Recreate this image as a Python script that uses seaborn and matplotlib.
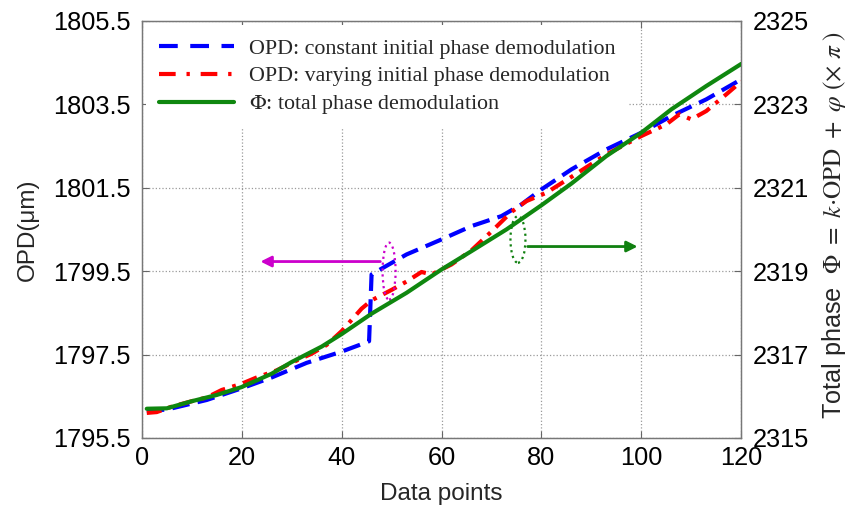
import numpy as np
import pandas as pd
import matplotlib
matplotlib.use("Agg")
import matplotlib.pyplot as plt
from matplotlib.patches import Ellipse
from matplotlib.lines import Line2D
import seaborn as sns

# ---------------- data ----------------
x_const = [1, 5, 13, 20, 26, 33, 40, 44.7, 45.5, 46, 48.3, 53, 60, 66, 72, 76, 80, 86, 93, 100, 106, 113, 120]
opd_const = [1796.15, 1796.18, 1796.41, 1796.69, 1796.95, 1797.30, 1797.57, 1797.78, 1797.82, 1799.42, 1799.58,
             1799.90, 1800.26, 1800.58, 1800.82, 1801.10, 1801.46, 1801.94, 1802.42, 1802.82, 1803.22, 1803.62, 1804.10]

x_vary = [1, 3, 6, 10, 13, 16, 20, 23, 27, 30, 34, 37, 40, 44, 46, 50, 53, 56, 58, 62, 66, 70, 74, 77, 81, 86,
          93, 100, 105, 107.6, 110, 113, 117, 120]
opd_vary = [1796.10, 1796.12, 1796.25, 1796.38, 1796.47, 1796.65, 1796.80, 1796.95, 1797.12, 1797.30, 1797.52,
            1797.73, 1798.06, 1798.60, 1798.80, 1799.05, 1799.25, 1799.48, 1799.42, 1799.66, 1800.00, 1800.45,
            1800.92, 1801.18, 1801.38, 1801.76, 1802.30, 1802.74, 1803.02, 1803.26, 1803.14, 1803.34, 1803.74, 1804.05]

x_phase = [1, 5, 10, 15, 20, 26, 30, 36, 40, 46, 53, 60, 66, 73, 80, 86, 93, 100, 106, 113, 120]
phase = [2315.70, 2315.71, 2315.88, 2316.03, 2316.22, 2316.54, 2316.82, 2317.19, 2317.49, 2317.98, 2318.48,
         2319.04, 2319.48, 2320.00, 2320.58, 2321.10, 2321.76, 2322.32, 2322.88, 2323.44, 2323.97]

x_ticks = [0, 20, 40, 60, 80, 100, 120]
opd_ticks = [1795.5, 1797.5, 1799.5, 1801.5, 1803.5, 1805.5]
phase_ticks = [2315, 2317, 2319, 2321, 2323, 2325]

labels = ["OPD: constant initial phase demodulation",
          "OPD: varying initial phase demodulation",
          r"$\Phi$: total phase demodulation"]

# ---------------- style ----------------
sns.set_style("ticks")
plt.rcParams["font.family"] = ["Liberation Sans", "DejaVu Sans"]
plt.rcParams["mathtext.fontset"] = "stix"
plt.rcParams["xtick.direction"] = "in"
plt.rcParams["ytick.direction"] = "in"

BLUE = "#0000ff"
RED = "#ff0000"
GREEN = "#0f870f"
MAGENTA = "#cc00cc"
ARROWGREEN = "#108010"
LW = 3.0

fig = plt.figure(figsize=(8.54, 5.11), dpi=100)
ax = fig.add_axes([0.166, 0.143, 0.702, 0.816])
ax2 = ax.twinx()

df_c = pd.DataFrame({"x": x_const, "y": opd_const})
df_v = pd.DataFrame({"x": x_vary, "y": opd_vary})
df_p = pd.DataFrame({"x": x_phase, "y": phase})

sns.lineplot(data=df_c, x="x", y="y", ax=ax, color=BLUE, lw=LW,
             estimator=None, sort=False, zorder=3)
ax.lines[-1].set_dashes([4.2, 2.0])
sns.lineplot(data=df_v, x="x", y="y", ax=ax, color=RED, lw=LW,
             estimator=None, sort=False, zorder=3)
ax.lines[-1].set_dashes([3.6, 1.8, 0.9, 1.8])
sns.lineplot(data=df_p, x="x", y="y", ax=ax2, color=GREEN, lw=LW,
             estimator=None, sort=False, zorder=3)

ax.set_xlim(0, 120)
ax.set_ylim(1795.5, 1805.5)
ax2.set_ylim(2315, 2325)
ax.set_xticks(x_ticks)
ax.set_yticks(opd_ticks)
ax.set_yticklabels([f"{v:.1f}" for v in opd_ticks])
ax2.set_yticks(phase_ticks)

ax.grid(True, linestyle=":", color="#9a9a9a", lw=0.9)
ax2.grid(False)

TS = 18.3
ax.tick_params(axis="both", labelsize=TS, length=5, width=0.8, colors="#666666", labelcolor="black",
               top=True, right=False, direction="in")
ax.tick_params(axis="y", pad=8)
ax.tick_params(axis="x", pad=6)
ax2.tick_params(axis="y", labelsize=TS, length=5, width=0.8, colors="#666666", labelcolor="black",
                direction="in", pad=8)
for a in (ax, ax2):
    for s in a.spines.values():
        s.set_visible(True)
        s.set_color("#777777")
        s.set_linewidth(0.9)

ax.set_xlabel("Data points", fontsize=17.5, labelpad=9)
ax.set_ylabel("OPD(μm)", fontsize=17.5, labelpad=10)
ax2.set_ylabel(r"Total phase  $\Phi\ =\ k{\cdot}\mathrm{OPD}\ +\ \varphi\ (\times\ \pi\ )$",
               fontsize=18.2)
ax2.yaxis.set_label_coords(1.132, 0.51)

# annotations
ax.add_patch(Ellipse((49.5, 1799.5), 2.6, 1.37, fill=False, ec=MAGENTA, ls=":", lw=1.6, zorder=4))
ax.add_patch(Ellipse((75.3, 1800.26), 3.0, 1.12, fill=False, ec=ARROWGREEN, ls=":", lw=1.6, zorder=4))
ax.annotate("", xy=(23.2, 1799.73), xytext=(48.3, 1799.73),
            arrowprops=dict(arrowstyle="-|>", color=MAGENTA, lw=2, mutation_scale=16), zorder=4)
ax.annotate("", xy=(99.8, 1800.09), xytext=(76.7, 1800.09),
            arrowprops=dict(arrowstyle="-|>", color=ARROWGREEN, lw=2, mutation_scale=16), zorder=4)

# legend
handles = [Line2D([], [], color=BLUE, lw=LW, dashes=[4.5, 3.0]),
           Line2D([], [], color=RED, lw=LW, dashes=[4, 2.6, 0.8, 2.6]),
           Line2D([], [], color=GREEN, lw=LW)]
leg = ax2.legend(handles, labels, loc="upper left", bbox_to_anchor=(0.0, 1.0),
                 prop={"family": ["Liberation Serif"], "size": 15.8},
                 frameon=True, facecolor="white", edgecolor="none", framealpha=1,
                 handlelength=3.4, handletextpad=0.7, labelspacing=0.32, borderpad=0.6,
                 borderaxespad=0.2, fancybox=False)
leg.set_zorder(10)

fig.savefig("out.png", dpi=100)
